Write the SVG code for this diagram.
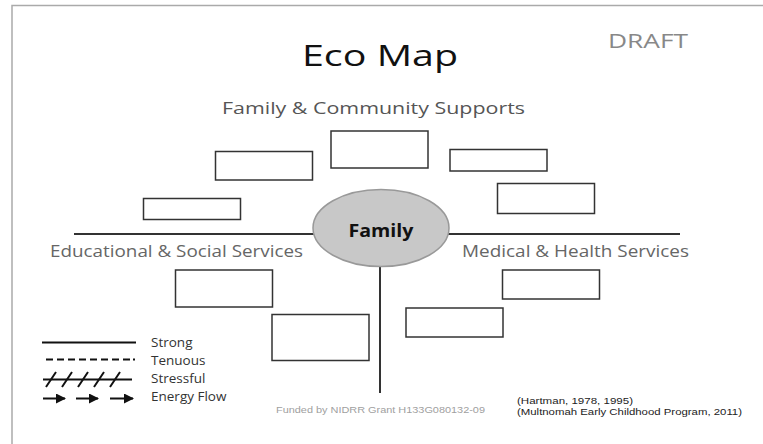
<svg xmlns="http://www.w3.org/2000/svg" width="763" height="444" viewBox="0 0 763 444">
  <defs>
    <style>
      .t { font-family: "Open Sans", "Liberation Sans", sans-serif; }
      .box { fill: #ffffff; stroke: #333333; stroke-width: 1.5; }
      .axis { stroke: #333333; stroke-width: 2; fill: none; }
      .lg { stroke: #111111; stroke-width: 2; fill: none; }
      .lgt { font-family: "Open Sans", "Liberation Sans", sans-serif; font-size: 13.5px; fill: #333333; }
      .cat { font-family: "Open Sans", "Liberation Sans", sans-serif; font-size: 15.5px; fill: #666666; }
      .ft { font-family: "Liberation Sans", "Open Sans", sans-serif; font-size: 8.5px; }
    </style>
    <marker id="arr" viewBox="0 0 10 10" refX="9" refY="5" markerWidth="5" markerHeight="5" orient="auto" markerUnits="strokeWidth">
      <path d="M0,0 L10,5 L0,10 z" fill="#111111"/>
    </marker>
  </defs>
  <rect x="0" y="0" width="763" height="444" fill="#ffffff"/>
  <!-- frame -->
  <path d="M12,444 L12,5.5 L763,5.5" fill="none" stroke="#aaaaaa" stroke-width="1.5"/>

  <!-- titles -->
  <text class="t" x="302" y="66" font-size="30" fill="#111111" textLength="156" lengthAdjust="spacingAndGlyphs">Eco Map</text>
  <text class="t" x="608" y="48" font-size="20" fill="#888888" textLength="80" lengthAdjust="spacingAndGlyphs">DRAFT</text>
  <text class="t" x="222" y="114" font-size="15.5" fill="#555555" textLength="303" lengthAdjust="spacingAndGlyphs">Family &amp; Community Supports</text>
  <text class="cat" x="50" y="257" textLength="253" lengthAdjust="spacingAndGlyphs">Educational &amp; Social Services</text>
  <text class="cat" x="462" y="257" textLength="227" lengthAdjust="spacingAndGlyphs">Medical &amp; Health Services</text>

  <!-- connectors -->
  <g id="connectors">
    <line class="axis" x1="74" y1="234" x2="680" y2="234"/>
    <line class="axis" x1="380" y1="260" x2="380" y2="393"/>
  </g>

  <!-- family node -->
  <g id="family">
    <ellipse cx="381" cy="228" rx="68" ry="38.5" fill="#c8c8c8" stroke="#999999" stroke-width="1.5"/>
    <text class="t" x="381" y="237" font-size="17" font-weight="bold" fill="#111111" text-anchor="middle" textLength="65" lengthAdjust="spacingAndGlyphs">Family</text>
  </g>

  <!-- empty boxes -->
  <g id="box-top"><rect class="box" x="331" y="131" width="97" height="37"/></g>
  <g id="box-upper-left"><rect class="box" x="215.5" y="151.5" width="97" height="28.5"/></g>
  <g id="box-upper-right"><rect class="box" x="450" y="149.5" width="97" height="21.5"/></g>
  <g id="box-right"><rect class="box" x="497.5" y="183.5" width="97" height="30"/></g>
  <g id="box-left"><rect class="box" x="143.5" y="198.5" width="97" height="21"/></g>
  <g id="box-lower-left"><rect class="box" x="175.5" y="270" width="97" height="37"/></g>
  <g id="box-lower-center"><rect class="box" x="272" y="314.5" width="97" height="46"/></g>
  <g id="box-lower-right"><rect class="box" x="502.5" y="270" width="97" height="29"/></g>
  <g id="box-lower-mid-right"><rect class="box" x="406" y="308" width="97" height="29"/></g>

  <!-- legend -->
  <g id="legend">
    <line class="lg" x1="42" y1="342.5" x2="136" y2="342.5"/>
    <line class="lg" x1="46" y1="359.5" x2="130" y2="359.5" stroke-dasharray="7,4" stroke-width="2.5"/>
    <line class="lg" x1="133" y1="359.5" x2="135" y2="359.5" stroke-width="2.5"/>
    <line class="lg" x1="43" y1="379.5" x2="132" y2="379.5"/>
    <path class="lg" stroke-width="2.5" d="M46,387 L56,372 M62,387 L72,372 M78,387 L88,372 M94,387 L104,372 M110,387 L120,372"/>
    <line class="lg" x1="43" y1="398.5" x2="65" y2="398.5" marker-end="url(#arr)"/>
    <line class="lg" x1="76" y1="398.5" x2="98" y2="398.5" marker-end="url(#arr)"/>
    <line class="lg" x1="110" y1="398.5" x2="133" y2="398.5" marker-end="url(#arr)"/>
    <text class="lgt" x="151" y="347">Strong</text>
    <text class="lgt" x="151" y="364.5">Tenuous</text>
    <text class="lgt" x="151" y="383">Stressful</text>
    <text class="lgt" x="151" y="400.5">Energy Flow</text>
  </g>

  <!-- footer -->
  <text class="ft" x="276" y="413" fill="#a0a0a0" textLength="209" lengthAdjust="spacingAndGlyphs">Funded by NIDRR Grant H133G080132-09</text>
  <text class="ft" x="517" y="403.5" fill="#222222" textLength="116" lengthAdjust="spacingAndGlyphs">(Hartman, 1978, 1995)</text>
  <text class="ft" x="517" y="414.5" fill="#222222" textLength="225" lengthAdjust="spacingAndGlyphs">(Multnomah Early Childhood Program, 2011)</text>
</svg>
